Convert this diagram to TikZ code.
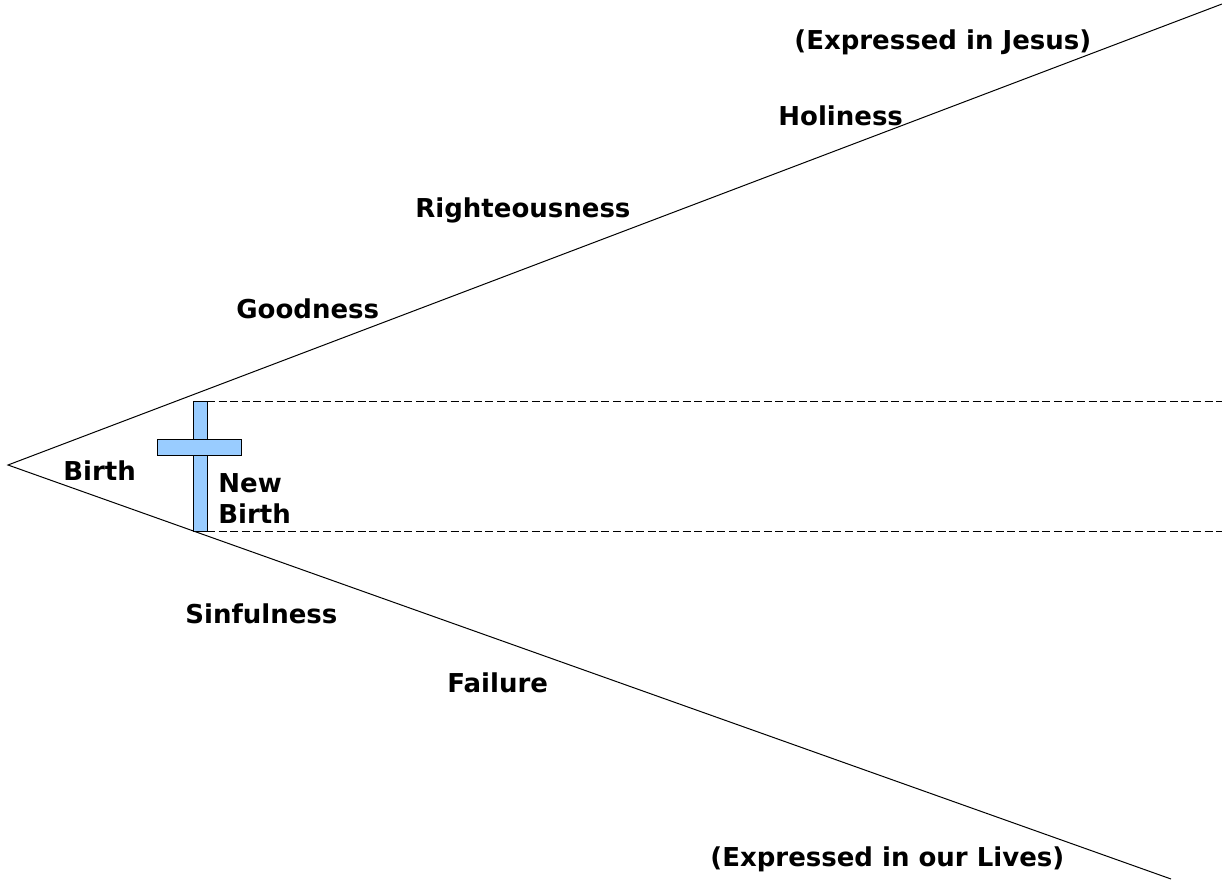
\documentclass[tikz,border=0pt]{standalone}
\usepackage{fontspec}
\setmainfont{DejaVu Sans}
\usetikzlibrary{positioning}
\definecolor{crossblue}{HTML}{99CCFF}
\begin{document}
\begin{tikzpicture}[x=0.5pt,y=-0.5pt]
        \tikzstyle{every node}= [inner sep=0pt,anchor=base west,font=\fontsize{13}{15.5}\selectfont\bfseries];
        \tikzstyle{limb}= [fill=crossblue,draw=black,line width=0.4pt];
        \useasboundingbox (0,0) rectangle (1222,883);
        % wedge
        \coordinate (apex) at (8,465);
        \coordinate (topend) at (1222,4);
        \coordinate (botend) at (1171,879);
        \draw[line width=0.5pt] (topend) -- (apex) -- (botend);
        % dashed band
        \foreach \y/\n in {401/hi,531/lo}{
          \coordinate (\n l) at (207,\y);
          \coordinate (\n r) at (1222,\y);
          \draw[line width=0.5pt,dash pattern=on 4pt off 1.8pt] (\n l) -- (\n r);
        }
        % cross
        \draw[limb] (193,401) rectangle (207,531);
        \draw[limb] (157,439) rectangle (241,455);
        \draw[limb,draw=none] (194,440) rectangle (206,454);
        % labels
        \node (jesus) at (794,50) {(Expressed in Jesus)};
        \node (holy) at (778,126) {Holiness};
        \node (right) at (415,218) {Righteousness};
        \node (good) at (236,318) {Goodness};
        \node (birth) at (63,480) {Birth};
        \node (new) at (218,492) {New};
        \node (newbirth) at (218,523) {Birth};
        \node (sin) at (185,623) {Sinfulness};
        \node (fail) at (447,692) {Failure};
        \node (lives) at (710,866) {(Expressed in our Lives)};
      \end{tikzpicture}
\end{document}
